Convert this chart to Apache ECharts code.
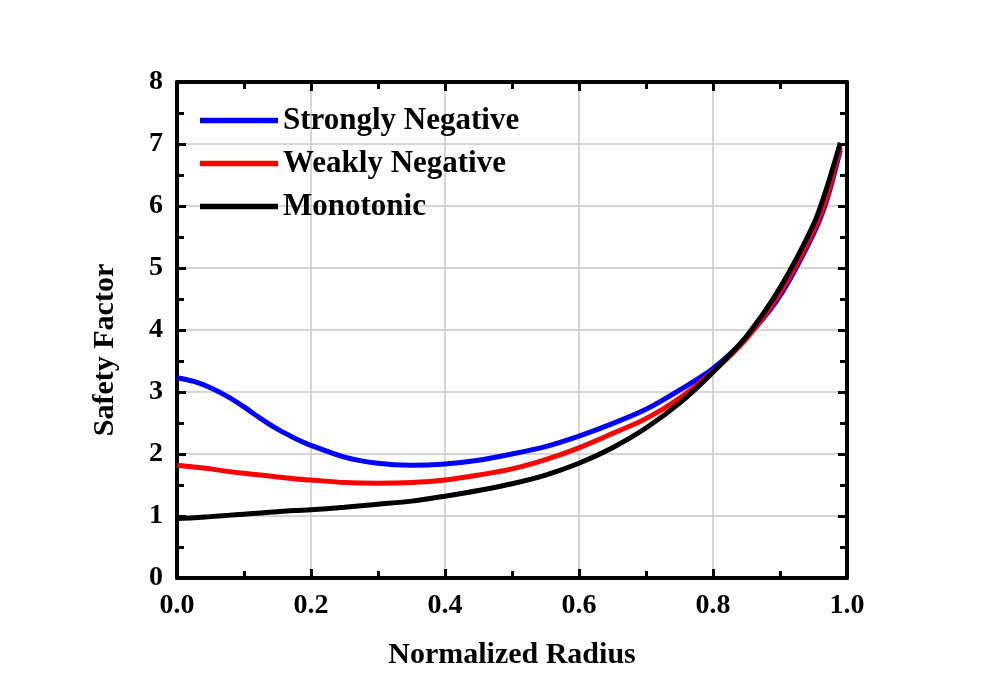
<!DOCTYPE html>
<html>
<head>
<meta charset="utf-8">
<script src="https://cdn.jsdelivr.net/npm/echarts@6/dist/echarts.min.js"></script>
<style>html,body{margin:0;padding:0;background:#fff;}#c{width:986px;height:695px;}</style>
</head>
<body>
<div id="c"></div>
<script>
const radius = [0, 0.025, 0.05, 0.075, 0.1, 0.125, 0.15, 0.175, 0.2, 0.25, 0.3, 0.35, 0.4, 0.45, 0.5, 0.55, 0.6, 0.65, 0.7, 0.75, 0.8, 0.85, 0.9, 0.95, 0.97, 0.99];
const stronglyNegative = [3.23, 3.17, 3.07, 2.93, 2.76, 2.57, 2.40, 2.26, 2.14, 1.95, 1.85, 1.82, 1.84, 1.90, 2.00, 2.12, 2.29, 2.49, 2.72, 3.03, 3.38, 3.88, 4.55, 5.55, 6.10, 6.90];
const weaklyNegative = [1.82, 1.79, 1.76, 1.72, 1.69, 1.66, 1.63, 1.60, 1.58, 1.54, 1.53, 1.54, 1.58, 1.66, 1.76, 1.91, 2.10, 2.33, 2.57, 2.90, 3.33, 3.86, 4.60, 5.60, 6.15, 6.95];
const monotonic = [0.96, 0.97, 0.99, 1.01, 1.03, 1.05, 1.07, 1.09, 1.10, 1.14, 1.19, 1.24, 1.32, 1.41, 1.52, 1.66, 1.85, 2.10, 2.42, 2.82, 3.32, 3.90, 4.68, 5.70, 6.30, 7.02];
const seriesNames = ['Strongly Negative', 'Weakly Negative', 'Monotonic'];
const seriesColors = ['#0000ff', '#ff0000', '#000000'];
const xTitle = 'Normalized Radius';
const yTitle = 'Safety Factor';

const font = 'Liberation Serif';
const chart = echarts.init(document.getElementById('c'));
const pair = (ys) => radius.map((x, i) => [x, ys[i]]);
const allData = [stronglyNegative, weaklyNegative, monotonic];

const axisLine = { show: true, onZero: false, lineStyle: { color: '#000', width: 4 } };
const majorTick = { show: true, inside: true, length: 9, lineStyle: { color: '#000', width: 3 } };
const minorTick = { show: true, splitNumber: 2, length: 7, lineStyle: { color: '#000', width: 3 } };
const labelStyle = { fontFamily: font, fontWeight: 'bold', fontSize: 28, color: '#000' };
const titleStyle = { fontFamily: font, fontWeight: 'bold', fontSize: 30, color: '#000' };

chart.setOption({
  animation: false,
  backgroundColor: '#fff',
  grid: { left: 177, right: 139, top: 82, bottom: 117, containLabel: false },
  legend: {
    orient: 'vertical',
    left: 195,
    top: 100,
    itemWidth: 78,
    itemHeight: 20,
    itemGap: 12,
    icon: 'path://M0,0 L100,0 L100,7 L0,7 Z',
    textStyle: { fontFamily: font, fontWeight: 'bold', fontSize: 31, color: '#000' },
    data: seriesNames
  },
  xAxis: [{
    type: 'value', min: 0, max: 1, interval: 0.2, position: 'bottom',
    axisLine, axisTick: majorTick, minorTick,
    axisLabel: Object.assign({ margin: 14, formatter: v => v.toFixed(1) }, labelStyle),
    splitLine: { show: true, lineStyle: { color: '#c8c8c8', width: 1.5 } },
    name: xTitle, nameLocation: 'middle', nameGap: 62,
    nameTextStyle: titleStyle
  }, {
    type: 'value', min: 0, max: 1, interval: 0.2, position: 'top',
    axisLine, axisTick: majorTick, minorTick,
    axisLabel: { show: false }, splitLine: { show: false }
  }],
  yAxis: [{
    type: 'value', min: 0, max: 8, interval: 1, position: 'left',
    axisLine, axisTick: majorTick, minorTick,
    axisLabel: Object.assign({ margin: 14 }, labelStyle),
    splitLine: { show: true, lineStyle: { color: '#c8c8c8', width: 1.5 } },
    name: yTitle, nameLocation: 'middle', nameGap: 57, nameRotate: 90,
    nameTextStyle: Object.assign({ padding: [0, 40, 0, 0] }, titleStyle)
  }, {
    type: 'value', min: 0, max: 8, interval: 1, position: 'right',
    axisLine, axisTick: majorTick, minorTick,
    axisLabel: { show: false }, splitLine: { show: false }
  }],
  series: seriesNames.map((name, i) => ({
    name, type: 'line', xAxisIndex: 0, yAxisIndex: 0,
    data: pair(allData[i]), smooth: 0.3, showSymbol: false, symbol: 'none',
    lineStyle: { color: seriesColors[i], width: 5 },
    itemStyle: { color: seriesColors[i] },
    z: 3 + i
  }))
});
</script>
</body>
</html>
